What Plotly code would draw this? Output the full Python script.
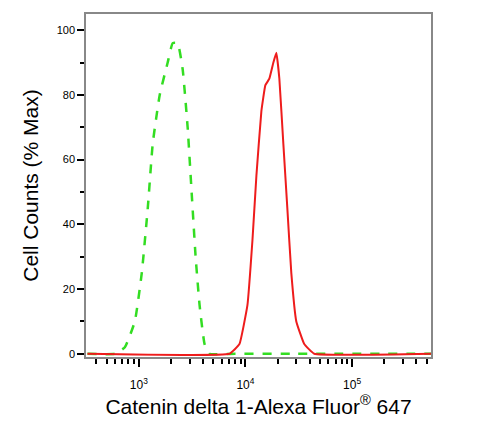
import plotly.graph_objects as go

# isotype control (green dashed)
ctrl_x = [330, 597, 740, 918, 1067, 1214, 1352, 1571, 1866, 2080, 2313, 2577, 2871, 3128, 3410, 3716, 4140, 4613, 8000, 30000, 550000]
ctrl_y = [0, 0, 2, 10, 25, 45, 65, 80, 90, 96, 96, 88, 70, 50, 30, 15, 3, 0, 0, 0, 0]
# antibody stained (red)
ab_x = [330, 7080, 8790, 10440, 11630, 12670, 14110, 15380, 16760, 18280, 19500, 20800, 22660, 24710, 26920, 29990, 35600, 44150, 550000]
ab_y = [0, 0, 3, 15, 35, 55, 75, 83, 85, 90, 93, 85, 65, 45, 25, 10, 3, 0, 0]

tick_vals = [1000, 10000, 100000]
tick_text = ["10<sup>3</sup>", "10<sup>4</sup>", "10<sup>5</sup>"]

fig = go.Figure()
fig.add_trace(go.Scatter(x=ctrl_x, y=ctrl_y, mode="lines",
                         line=dict(color="#33dd22", width=2.5, dash="dash", shape="spline", smoothing=0.4)))
fig.add_trace(go.Scatter(x=ab_x, y=ab_y, mode="lines",
                         line=dict(color="#ee1c1c", width=2, shape="spline", smoothing=0.3)))

# margins offset by ~8px to allow for the page's body margin
fig.update_layout(
    width=493, height=429, showlegend=False,
    margin=dict(l=78, r=70, t=6, b=80, autoexpand=False),
    plot_bgcolor="white", paper_bgcolor="white",
    font=dict(family="Arial, Liberation Sans", color="black"),
)
fig.update_xaxes(type="log", range=[2.505, 5.74], tickvals=tick_vals, ticktext=tick_text,
                 ticks="outside", ticklen=8, tickwidth=1.5, tickcolor="black",
                 minor=dict(ticks="outside", ticklen=5, tickcolor="black", dtick="D1"),
                 showgrid=False, showline=True, linecolor="#888", mirror=True, linewidth=1.5,
                 tickfont=dict(size=12), ticklabelstandoff=8, automargin=False,
                 title=dict(text="Catenin delta 1-Alexa Fluor<sup>®</sup> 647", font=dict(size=21), standoff=4))
fig.update_yaxes(range=[-1, 105], tickvals=[0, 20, 40, 60, 80, 100],
                 ticks="outside", ticklen=7, tickwidth=2, tickcolor="black",
                 minor=dict(ticks="outside", ticklen=4, tickcolor="black", dtick=10),
                 showgrid=False, zeroline=False, showline=True, linecolor="#888", mirror=True, linewidth=1.5,
                 tickfont=dict(size=11), automargin=False,
                 title=dict(text="Cell Counts (% Max)", font=dict(size=21), standoff=12))

fig.write_html("out.html")
